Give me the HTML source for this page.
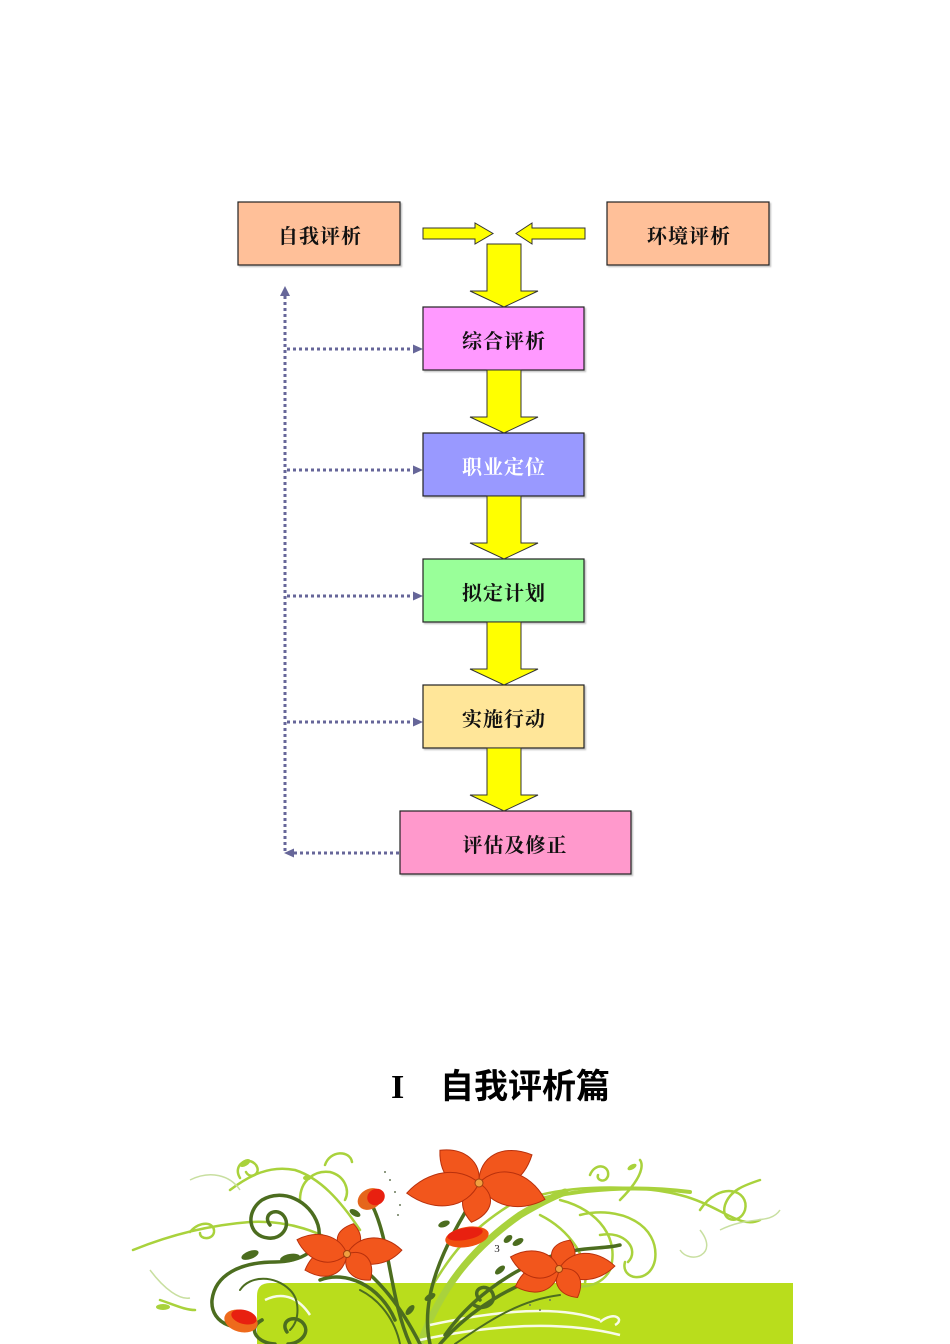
<!DOCTYPE html>
<html><head><meta charset="utf-8">
<style>
html,body{margin:0;padding:0;background:#fff;}
body{width:950px;height:1344px;position:relative;overflow:hidden;}
svg{position:absolute;left:0;top:0;}
.bt{font-family:"Liberation Serif","Noto Serif CJK SC",serif;font-weight:bold;font-size:20px;letter-spacing:1px;}
</style></head>
<body>
<svg width="950" height="1344" viewBox="0 0 950 1344" xmlns="http://www.w3.org/2000/svg">
<defs>
<filter id="sh" x="-5%" y="-5%" width="115%" height="120%"><feDropShadow dx="1.5" dy="1.5" stdDeviation="0.8" flood-color="#999" flood-opacity="0.6"/></filter>
</defs>

<!-- Boxes -->
<g stroke="#222" stroke-width="1.2" filter="url(#sh)">
<rect x="238" y="202" width="162" height="63" fill="#FFC099"/>
<rect x="607" y="202" width="162" height="63" fill="#FFC099"/>
<rect x="423" y="307" width="161" height="63" fill="#FF99FF"/>
<rect x="423" y="433" width="161" height="63" fill="#9999FF"/>
<rect x="423" y="559" width="161" height="63" fill="#99FF99"/>
<rect x="423" y="685" width="161" height="63" fill="#FFE699"/>
<rect x="400" y="811" width="231" height="63" fill="#FF99CC"/>
</g>
<g class="bt" text-anchor="middle">
<text x="320" y="243" fill="#111">自我评析</text>
<text x="689" y="243" fill="#111">环境评析</text>
<text x="504" y="348" fill="#111">综合评析</text>
<text x="504" y="474" fill="#fff">职业定位</text>
<text x="504" y="600" fill="#111">拟定计划</text>
<text x="504" y="726" fill="#111">实施行动</text>
<text x="515" y="852" fill="#111">评估及修正</text>
</g>

<!-- Yellow arrows -->
<g fill="#FFFF00" stroke="#333" stroke-width="1">
<path d="M423,228 L475,228 L475,223 L493,233.5 L475,244 L475,239 L423,239 Z"/>
<path d="M585,228 L532,228 L532,223 L516,233.5 L532,244 L532,239 L585,239 Z"/>
<path d="M487,244 L521,244 L521,291 L538,291 L504,307 L470,291 L487,291 Z"/>
<path d="M487,370 L521,370 L521,417 L538,417 L504,433 L470,417 L487,417 Z"/>
<path d="M487,496 L521,496 L521,543 L538,543 L504,559 L470,543 L487,543 Z"/>
<path d="M487,622 L521,622 L521,669 L538,669 L504,685 L470,669 L487,669 Z"/>
<path d="M487,748 L521,748 L521,795 L538,795 L504,811 L470,795 L487,795 Z"/>
</g>

<!-- Dotted feedback lines -->
<g stroke="#666699" stroke-width="3" stroke-dasharray="3,3" fill="none">
<line x1="285" y1="296" x2="285" y2="854"/>
<line x1="287" y1="349" x2="414" y2="349"/>
<line x1="287" y1="470" x2="414" y2="470"/>
<line x1="287" y1="596" x2="414" y2="596"/>
<line x1="287" y1="722" x2="414" y2="722"/>
<line x1="399" y1="853" x2="293" y2="853"/>
</g>
<g fill="#666699">
<polygon points="285,286 280,296 290,296"/>
<polygon points="423,349 413,344.5 413,353.5"/>
<polygon points="423,470 413,465.5 413,474.5"/>
<polygon points="423,596 413,591.5 413,600.5"/>
<polygon points="423,722 413,717.5 413,726.5"/>
<polygon points="284,853 294,848.5 294,857.5"/>
</g>

<!-- Title -->
<text x="391" y="1098" font-family="Liberation Serif,serif" font-weight="bold" font-size="34" fill="#000">I</text>
<text x="440" y="1098" font-family="'Liberation Sans','Noto Sans CJK SC',sans-serif" font-weight="bold" font-size="34" fill="#000">自我评析篇</text>

<!-- Floral decoration -->
<path d="M257,1296 Q257,1283 270,1283 L793,1283 L793,1344 L257,1344 Z" fill="#B9DD1C"/>

<!-- thick light green stem -->
<path d="M420,1344 C440,1290 470,1250 520,1215 C540,1203 555,1196 565,1192" fill="none" stroke="#A9D23C" stroke-width="7" stroke-linecap="round"/>
<path d="M545,1198 C590,1188 640,1186 690,1192" fill="none" stroke="#A9D23C" stroke-width="4" stroke-linecap="round"/>

<!-- light green swirls -->
<g fill="none" stroke="#A9D23C" stroke-width="2.5" stroke-linecap="round">
<path d="M133,1250 C170,1235 210,1225 250,1222 C290,1220 320,1232 350,1250"/>
<path d="M190,1232 C200,1220 215,1222 214,1232 C213,1240 200,1240 200,1233"/>
<path d="M230,1190 C250,1175 270,1165 295,1170 C320,1178 340,1200 360,1230"/>
<path d="M240,1178 C232,1165 248,1155 256,1165 C262,1174 250,1180 246,1172"/>
<path d="M300,1200 C300,1180 315,1170 330,1172 C345,1176 350,1190 345,1200"/>
<path d="M540,1195 C580,1185 640,1185 680,1195 C720,1205 740,1230 760,1220"/>
<path d="M560,1200 C600,1210 620,1240 610,1270 C600,1290 570,1290 560,1280"/>
<path d="M590,1175 C595,1162 610,1165 608,1176 C605,1184 596,1180 598,1175"/>
<path d="M620,1200 C650,1170 640,1160 640,1160"/>
<path d="M700,1210 C720,1180 750,1190 745,1210 C740,1225 720,1222 725,1205 C730,1190 745,1185 760,1180"/>
<path d="M430,1290 C450,1255 470,1230 510,1205"/>
<path d="M160,1300 C175,1305 185,1310 195,1310"/>
<path d="M580,1215 C620,1205 660,1225 655,1260 C650,1285 620,1280 625,1262"/>
<path d="M600,1235 C625,1230 640,1250 628,1262"/>
<path d="M540,1215 C570,1230 590,1260 585,1283"/>
<path d="M325,1165 C330,1150 350,1150 352,1162"/>
</g>
<g fill="none" stroke="#C8DFA0" stroke-width="1.5">
<path d="M190,1180 C210,1170 230,1175 240,1190"/>
<path d="M700,1230 C720,1255 690,1265 680,1250"/>
<path d="M720,1230 C750,1215 770,1225 780,1210"/>
<path d="M150,1270 C165,1290 180,1300 190,1298"/>
</g>
<!-- white curves on green -->
<g fill="none" stroke="#fff" stroke-width="2.5" opacity="0.9">
<path d="M430,1325 C500,1310 560,1305 600,1320"/>
<path d="M420,1340 C490,1325 560,1320 620,1335"/>
<path d="M600,1322 C615,1310 625,1320 615,1325"/>
<path d="M265,1300 C285,1290 300,1300 310,1315"/>
</g>
<!-- dark green stems and spirals -->
<g fill="none" stroke="#4C6D1F" stroke-width="3.5" stroke-linecap="round">
<path d="M270,1225 C262,1215 275,1207 283,1215 C292,1225 282,1240 268,1238 C248,1236 245,1212 262,1200 C282,1188 310,1200 318,1225 C325,1250 300,1262 275,1262 C240,1262 215,1275 212,1300 C210,1325 240,1335 262,1320"/>
<path d="M287,1332 C280,1322 292,1314 302,1322 C312,1332 300,1344 288,1344"/>
<path d="M262,1320 C245,1330 260,1344 275,1344"/>
<path d="M430,1344 C420,1300 440,1250 479,1190"/>
<path d="M420,1344 C400,1305 380,1280 350,1258"/>
<path d="M440,1344 C470,1310 510,1285 555,1272"/>
<path d="M410,1344 C390,1300 390,1240 372,1205"/>
<path d="M445,1335 C470,1300 505,1275 540,1260 C580,1245 600,1250 620,1245"/>
<path d="M480,1300 C470,1290 485,1282 492,1292 C498,1302 485,1312 474,1305"/>
<path d="M320,1280 C345,1270 380,1285 395,1320"/>
</g>
<g fill="none" stroke="#4C6D1F" stroke-width="2" stroke-linecap="round">
<path d="M240,1290 C250,1275 275,1275 290,1290 C300,1300 300,1320 290,1330"/>
<path d="M400,1344 C395,1320 380,1300 360,1290"/>
<path d="M455,1344 C490,1320 520,1300 560,1295"/>
</g>
<!-- leaves -->
<g fill="#4C6D1F">
<ellipse cx="250" cy="1255" rx="9" ry="4" transform="rotate(-20 250 1255)"/>
<ellipse cx="290" cy="1258" rx="10" ry="4" transform="rotate(-10 290 1258)"/>
<ellipse cx="355" cy="1213" rx="6" ry="3" transform="rotate(30 355 1213)"/>
<ellipse cx="444" cy="1224" rx="6" ry="3" transform="rotate(-20 444 1224)"/>
<ellipse cx="508" cy="1239" rx="5" ry="3" transform="rotate(-40 508 1239)"/>
<ellipse cx="430" cy="1297" rx="6" ry="3" transform="rotate(-30 430 1297)"/>
<ellipse cx="518" cy="1242" rx="6" ry="3" transform="rotate(-30 518 1242)"/>
<ellipse cx="500" cy="1270" rx="6" ry="3" transform="rotate(-40 500 1270)"/>
<ellipse cx="410" cy="1310" rx="6" ry="3" transform="rotate(-50 410 1310)"/>
</g>
<g fill="#A9D23C">
<ellipse cx="245" cy="1163" rx="6" ry="3" transform="rotate(-30 245 1163)"/>
<ellipse cx="163" cy="1307" rx="7" ry="3"/>
<ellipse cx="307" cy="1178" rx="4" ry="2.5"/>
<ellipse cx="632" cy="1167" rx="5" ry="2.5" transform="rotate(-30 632 1167)"/>
</g>

<!-- buds -->
<g>
<ellipse cx="370" cy="1199" rx="13" ry="10" fill="#E5661C" transform="rotate(-30 370 1199)"/>
<ellipse cx="376" cy="1197" rx="9" ry="8" fill="#E82010" transform="rotate(-30 376 1197)"/>
<ellipse cx="467" cy="1237" rx="22" ry="10" fill="#F05010" transform="rotate(-10 467 1237)"/>
<ellipse cx="465" cy="1234" rx="18" ry="6" fill="#E82010" transform="rotate(-10 465 1234)"/>
<ellipse cx="241" cy="1321" rx="17" ry="11" fill="#EE6A1C" transform="rotate(15 241 1321)"/>
<ellipse cx="244" cy="1317" rx="13" ry="7" fill="#E82010" transform="rotate(15 244 1317)"/>
</g>

<!-- flowers -->
<g fill="#F2561C" stroke="#B8300C" stroke-width="1">
<!-- big flower center 479,1183 -->
<g transform="translate(479 1183)">
<path transform="rotate(-140)" d="M0,0 C10,-22 34,-22 51,0 C34,18 12,18 0,0 Z"/>
<path transform="rotate(-28)" d="M0,0 C12,-24 40,-24 60,0 C40,20 14,20 0,0 Z"/>
<path transform="rotate(14)" d="M0,0 C14,-24 46,-24 68,0 C46,20 16,20 0,0 Z"/>
<path transform="rotate(101)" d="M0,0 C8,-20 27,-20 40,0 C27,17 10,17 0,0 Z"/>
<path transform="rotate(172)" d="M0,0 C15,-24 49,-24 73,0 C49,20 17,20 0,0 Z"/>
<circle r="4" fill="#F0A040" stroke="#A04010"/>
</g>
<!-- right flower 559,1269 -->
<g transform="translate(559 1269)">
<path transform="rotate(-69)" d="M0,0 C7,-17 21,-17 31,0 C21,14 8,14 0,0 Z"/>
<path transform="rotate(-3)" d="M0,0 C12,-19 38,-19 56,0 C38,16 13,16 0,0 Z"/>
<path transform="rotate(57)" d="M0,0 C7,-17 23,-17 34,0 C23,14 8,14 0,0 Z"/>
<path transform="rotate(158)" d="M0,0 C10,-19 31,-19 47,0 C31,16 11,16 0,0 Z"/>
<path transform="rotate(-166)" d="M0,0 C10,-19 33,-19 50,0 C33,16 11,16 0,0 Z"/>
<circle r="3.5" fill="#F0A040" stroke="#A04010"/>
</g>
<!-- left flower 347,1254 -->
<g transform="translate(347 1254)">
<path transform="rotate(-78)" d="M0,0 C7,-17 21,-17 31,0 C21,14 8,14 0,0 Z"/>
<path transform="rotate(-4)" d="M0,0 C12,-19 38,-19 55,0 C38,16 13,16 0,0 Z"/>
<path transform="rotate(48)" d="M0,0 C7,-17 24,-17 35,0 C24,14 8,14 0,0 Z"/>
<path transform="rotate(159)" d="M0,0 C10,-19 30,-19 45,0 C30,16 11,16 0,0 Z"/>
<path transform="rotate(-164)" d="M0,0 C11,-19 35,-19 52,0 C35,16 12,16 0,0 Z"/>
<circle r="3.5" fill="#F0A040" stroke="#A04010"/>
</g>
</g>

<!-- small dots -->
<g fill="#6A7A5A">
<circle cx="385" cy="1172" r="1"/><circle cx="390" cy="1180" r="1"/><circle cx="395" cy="1192" r="1"/>
<circle cx="400" cy="1205" r="1"/><circle cx="398" cy="1215" r="1"/><circle cx="530" cy="1305" r="1"/>
<circle cx="540" cy="1310" r="1"/><circle cx="550" cy="1300" r="1"/>
</g>

<!-- page number -->
<text x="497" y="1252" font-family="Liberation Serif,serif" font-size="11" fill="#222" text-anchor="middle">3</text>
</svg>
</body></html>
